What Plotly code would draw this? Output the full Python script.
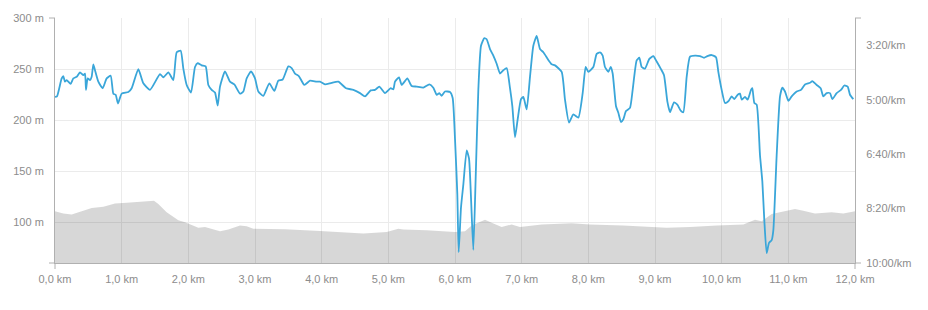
import plotly.graph_objects as go

# Pace line (distance km, pace in seconds per km)
pace_km = [0.0, 0.03, 0.1, 0.125, 0.15, 0.175, 0.235, 0.275, 0.325, 0.375, 0.425, 0.45, 0.465, 0.49,
           0.525, 0.55, 0.575, 0.6, 0.65, 0.715, 0.775, 0.835, 0.875, 0.91, 0.945, 1.0, 1.1, 1.15,
           1.25, 1.325, 1.425, 1.575, 1.625, 1.7, 1.775, 1.825, 1.885, 1.925, 1.975, 2.04, 2.1, 2.14,
           2.2, 2.26, 2.3, 2.35, 2.4, 2.44, 2.475, 2.55, 2.625, 2.69, 2.775, 2.825, 2.875, 2.94, 3.0,
           3.05, 3.125, 3.215, 3.29, 3.35, 3.415, 3.5, 3.55, 3.6, 3.66, 3.74, 3.825, 3.925, 3.975,
           4.05, 4.15, 4.25, 4.365, 4.475, 4.575, 4.65, 4.735, 4.8, 4.865, 4.95, 5.035, 5.075, 5.1,
           5.16, 5.2, 5.285, 5.35, 5.425, 5.525, 5.615, 5.675, 5.725, 5.765, 5.8, 5.85, 5.925, 5.965,
           6.0, 6.035, 6.055, 6.09, 6.125, 6.175, 6.21, 6.24, 6.275, 6.31, 6.35, 6.39, 6.44, 6.475,
           6.525, 6.575, 6.625, 6.675, 6.725, 6.775, 6.825, 6.86, 6.9, 6.94, 6.99, 7.025, 7.075,
           7.125, 7.175, 7.225, 7.275, 7.325, 7.4, 7.45, 7.5, 7.6, 7.65, 7.71, 7.775, 7.85, 7.915,
           7.96, 8.0, 8.075, 8.125, 8.175, 8.215, 8.25, 8.3, 8.335, 8.365, 8.415, 8.45, 8.49, 8.525,
           8.565, 8.625, 8.665, 8.725, 8.765, 8.8, 8.85, 8.915, 8.975, 9.025, 9.085, 9.135, 9.185,
           9.225, 9.285, 9.335, 9.385, 9.425, 9.475, 9.525, 9.6, 9.675, 9.735, 9.785, 9.85, 9.915,
           9.95, 10.0, 10.05, 10.1, 10.15, 10.19, 10.24, 10.275, 10.3, 10.35, 10.39, 10.44, 10.46,
           10.49, 10.525, 10.575, 10.61, 10.64, 10.675, 10.71, 10.75, 10.775, 10.825, 10.875, 10.91,
           10.95, 11.0, 11.05, 11.125, 11.19, 11.25, 11.325, 11.36, 11.425, 11.485, 11.525, 11.575,
           11.625, 11.66, 11.725, 11.79, 11.84, 11.89, 11.925, 11.975]
pace_s = [295, 294, 261, 257, 267, 264, 271, 261, 258, 250, 255, 252, 282, 261,
          264, 258, 235, 246, 267, 279, 261, 256, 289, 291, 307, 289, 286, 279,
          244, 270, 282, 253, 259, 250, 264, 213, 210, 243, 273, 287, 240, 233,
          237, 239, 273, 282, 287, 311, 276, 248, 267, 272, 289, 285, 261, 248, 261,
          285, 293, 270, 284, 265, 263, 239, 242, 252, 257, 273, 265, 267, 267,
          272, 269, 267, 279, 282, 288, 294, 283, 282, 276, 288, 279, 281, 267,
          259, 273, 261, 275, 276, 278, 272, 278, 291, 288, 293, 285, 286, 297,
          372, 474, 580, 498, 456, 393, 408, 480, 576, 444, 282, 201, 187, 189,
          207, 219, 234, 252, 246, 242, 279, 312, 369, 336, 299, 295, 318,
          258, 201, 183, 207, 213, 227, 235, 237, 249, 300, 342, 327, 333, 288,
          240, 249, 240, 216, 213, 219, 240, 249, 240, 252, 312, 324, 341, 336,
          321, 315, 282, 228, 223, 240, 243, 225, 220, 230, 243, 255, 303,
          323, 305, 309, 320, 323, 258, 221, 219, 220, 223, 220, 218, 222,
          249, 282, 306, 303, 294, 299, 291, 289, 300, 295, 300, 282, 279,
          306, 309, 402, 450, 522, 582, 563, 558, 540, 402, 294, 278,
          285, 302, 294, 285, 282, 272, 269, 266, 273, 279, 294, 288,
          288, 299, 288, 282, 274, 276, 291, 299]

# Elevation profile (distance km, metres)
elev_km = [0.0, 0.125, 0.25, 0.425, 0.55, 0.725, 0.9, 1.075, 1.275, 1.485, 1.55, 1.675, 1.85, 1.95,
           2.15, 2.25, 2.475, 2.6, 2.775, 2.875, 2.975, 3.45, 3.975, 4.275, 4.625, 4.975, 5.15,
           5.225, 5.575, 6.0, 6.15, 6.25, 6.45, 6.55, 6.7, 6.85, 6.975, 7.3, 7.75, 8.025, 8.525,
           9.175, 9.525, 9.925, 10.125, 10.325, 10.5, 10.6, 10.75, 10.925, 11.1, 11.225, 11.4,
           11.65, 11.825, 12.0]
elev_m = [110.6, 108.6, 107.4, 111, 113.8, 115, 118.3, 119, 120, 121, 117.7, 109.6, 102, 100,
          94.6, 95.2, 91, 92.7, 96.8, 95.9, 93.6, 93, 91.3, 90.4, 88.8, 90.4, 93.6,
          92.7, 92, 90.4, 91, 96.8, 102.3, 99.4, 95.2, 97.8, 95.2, 97.8, 99, 97.8, 96.8,
          94.6, 95.2, 96.8, 97.5, 97.8, 102.3, 101, 108, 110.6, 112.9, 111.3, 108.6,
          109.6, 108.6, 110.6]

x_ticks = list(range(0, 13))
x_tick_text = [f"{v},0 km" for v in x_ticks]
elev_ticks = [100, 150, 200, 250, 300]
elev_tick_text = [f"{v} m" for v in elev_ticks]
pace_ticks = [200, 300, 400, 500, 600]
pace_tick_text = ["3:20/km", "5:00/km", "6:40/km", "8:20/km", "10:00/km"]

TEXT = "#8c8c8c"
AXIS = "#b0b0b0"
GRID = "#ebebeb"
FONT = "Liberation Sans, Arial, sans-serif"

fig = go.Figure()
fig.add_trace(go.Scatter(
    x=elev_km, y=elev_m, mode="lines", fill="tozeroy",
    fillcolor="rgba(0,0,0,0.155)", line=dict(width=0, color="rgba(0,0,0,0)"),
    hoverinfo="skip", yaxis="y"))
fig.add_trace(go.Scatter(
    x=pace_km, y=pace_s, mode="lines",
    line=dict(color="#3aa6d9", width=1.8, shape="spline", smoothing=0.5),
    yaxis="y2"))

fig.update_layout(
    width=928, height=310,
    margin=dict(l=55, r=73, t=13, b=47),
    paper_bgcolor="white", plot_bgcolor="white",
    showlegend=False,
    font=dict(family=FONT, size=11, color=TEXT),
    xaxis=dict(range=[0, 12], tickvals=x_ticks, ticktext=x_tick_text,
               showgrid=True, gridcolor=GRID, gridwidth=1,
               showline=True, linecolor=AXIS, linewidth=1,
               ticks="", ticklabelstandoff=6, zeroline=False, fixedrange=True),
    yaxis=dict(range=[60, 300], tickvals=elev_ticks, ticktext=elev_tick_text,
               showgrid=True, gridcolor=GRID, gridwidth=1,
               showline=True, linecolor=AXIS, linewidth=1,
               ticks="", ticklabelstandoff=8, zeroline=False),
    yaxis2=dict(range=[600, 150], tickvals=pace_ticks, ticktext=pace_tick_text,
                overlaying="y", side="right", showgrid=False,
                showline=True, linecolor=AXIS, linewidth=1,
                ticks="", ticklabelstandoff=8, zeroline=False),
)

# small end ticks on the axes
end_ticks = [
    dict(xref="paper", yref="paper", xsizemode="pixel", xanchor=0, x0=-6, x1=0, y0=1, y1=1),
    dict(xref="paper", yref="paper", xsizemode="pixel", xanchor=0, x0=-6, x1=0, y0=0, y1=0),
    dict(xref="paper", yref="paper", xsizemode="pixel", xanchor=1, x0=0, x1=6, y0=1, y1=1),
    dict(xref="paper", yref="paper", xsizemode="pixel", xanchor=1, x0=0, x1=6, y0=0, y1=0),
    dict(xref="paper", yref="paper", ysizemode="pixel", yanchor=0, x0=0, x1=0, y0=0, y1=-6),
    dict(xref="paper", yref="paper", ysizemode="pixel", yanchor=0, x0=1, x1=1, y0=0, y1=-6),
]
for s in end_ticks:
    fig.add_shape(type="line", line=dict(color=AXIS, width=1), **s)

fig.write_html("out.html")
